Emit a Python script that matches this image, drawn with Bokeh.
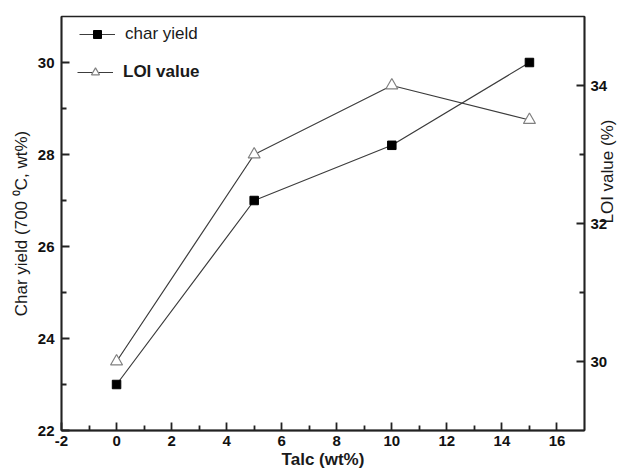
import math
from bokeh.plotting import figure
from bokeh.models import Range1d, LinearAxis, FixedTicker, Legend, LegendItem
from bokeh.embed import file_html
from bokeh.resources import INLINE

# ---- data ----
talc = [0, 5, 10, 15]
char_yield = [23.0, 27.0, 28.2, 30.0]
loi_value = [30.0, 33.0, 34.0, 33.5]

x_major = [-2, 0, 2, 4, 6, 8, 10, 12, 14, 16]
x_minor = [-1, 1, 3, 5, 7, 9, 11, 13, 15]
y_left_major = [22, 24, 26, 28, 30]
y_left_minor = [23, 25, 27, 29]
y_right_major = [30, 32, 34]
y_right_minor = [31, 33]

x_label = "Talc (wt%)"
y_left_label = "Char yield (700 \u2070C, wt%)"
y_right_label = "LOI value (%)"
series_names = ["char yield", "LOI value"]

FONT = "Liberation Sans"

p = figure(width=629, height=472, output_backend="svg", toolbar_location=None,
           x_range=Range1d(-2, 17), y_range=Range1d(22, 31),
           min_border_left=61, min_border_right=43, min_border_top=16,
           min_border_bottom=42)
p.extra_y_ranges = {"loi": Range1d(29, 35)}

p.xgrid.visible = False
p.ygrid.visible = False
p.outline_line_color = "#222222"
p.outline_line_width = 1.5
p.background_fill_color = "white"
p.border_fill_color = "white"


def style_axis(ax, major, minor):
    ax.ticker = FixedTicker(ticks=major, minor_ticks=minor)
    ax.axis_line_color = "#222222"
    ax.axis_line_width = 1.8
    ax.major_tick_line_color = "#222222"
    ax.major_tick_line_width = 1.8
    ax.minor_tick_line_color = "#222222"
    ax.minor_tick_line_width = 1.8
    ax.major_tick_in = 8
    ax.major_tick_out = 0
    ax.minor_tick_in = 5
    ax.minor_tick_out = 0
    ax.major_label_text_font = FONT
    ax.major_label_text_font_style = "bold"
    ax.major_label_text_font_size = "15px"
    ax.major_label_text_color = "#111111"
    ax.major_label_standoff = 7
    ax.axis_label_text_font = FONT
    ax.axis_label_text_font_style = "normal"
    ax.axis_label_text_font_size = "17px"
    ax.axis_label_text_color = "#1a1a1a"
    ax.axis_label_standoff = 4


xa = p.xaxis[0]
style_axis(xa, x_major, x_minor)
xa.axis_label = x_label
xa.axis_label_text_font_style = "bold"
xa.axis_label_standoff = 1
xa.major_label_standoff = 5
xa.major_label_overrides = {-2: "-2"}

ya = p.yaxis[0]
style_axis(ya, y_left_major, y_left_minor)
ya.axis_label = y_left_label

ra = LinearAxis(y_range_name="loi")
style_axis(ra, y_right_major, y_right_minor)
ra.axis_label = y_right_label
ra.axis_label_orientation = math.pi / 2
ra.axis_label_standoff = -3
ra.major_label_standoff = 6
p.add_layout(ra, "right")

line_color = "#3c3c3c"
l1 = p.line(talc, char_yield, line_color=line_color, line_width=1.2)
s1 = p.scatter(talc, char_yield, marker="square", size=8.5,
               fill_color="black", line_color="black")
l2 = p.line(talc, loi_value, line_color=line_color, line_width=1.2,
            y_range_name="loi")
s2 = p.scatter(talc, loi_value, marker="triangle", size=12,
               fill_color="white", line_color="#808080", line_width=1.2,
               y_range_name="loi")

def make_legend(item, loc, style):
    lg = Legend(items=[item], location=loc, orientation="vertical",
                glyph_width=36, glyph_height=20, label_height=20,
                label_standoff=10, padding=0, margin=0, spacing=0,
                border_line_alpha=0, background_fill_alpha=0,
                label_text_font=FONT, label_text_font_size="17px",
                label_text_font_style=style, label_text_color="#1a1a1a")
    return lg

leg1 = make_legend(LegendItem(label=series_names[0], renderers=[l1, s1]),
                   (18, 386), "normal")
leg2 = make_legend(LegendItem(label=series_names[1], renderers=[l2, s2]),
                   (16, 348), "bold")
p.add_layout(leg1)
p.add_layout(leg2)

open("out.html", "w").write(file_html(p, INLINE))
